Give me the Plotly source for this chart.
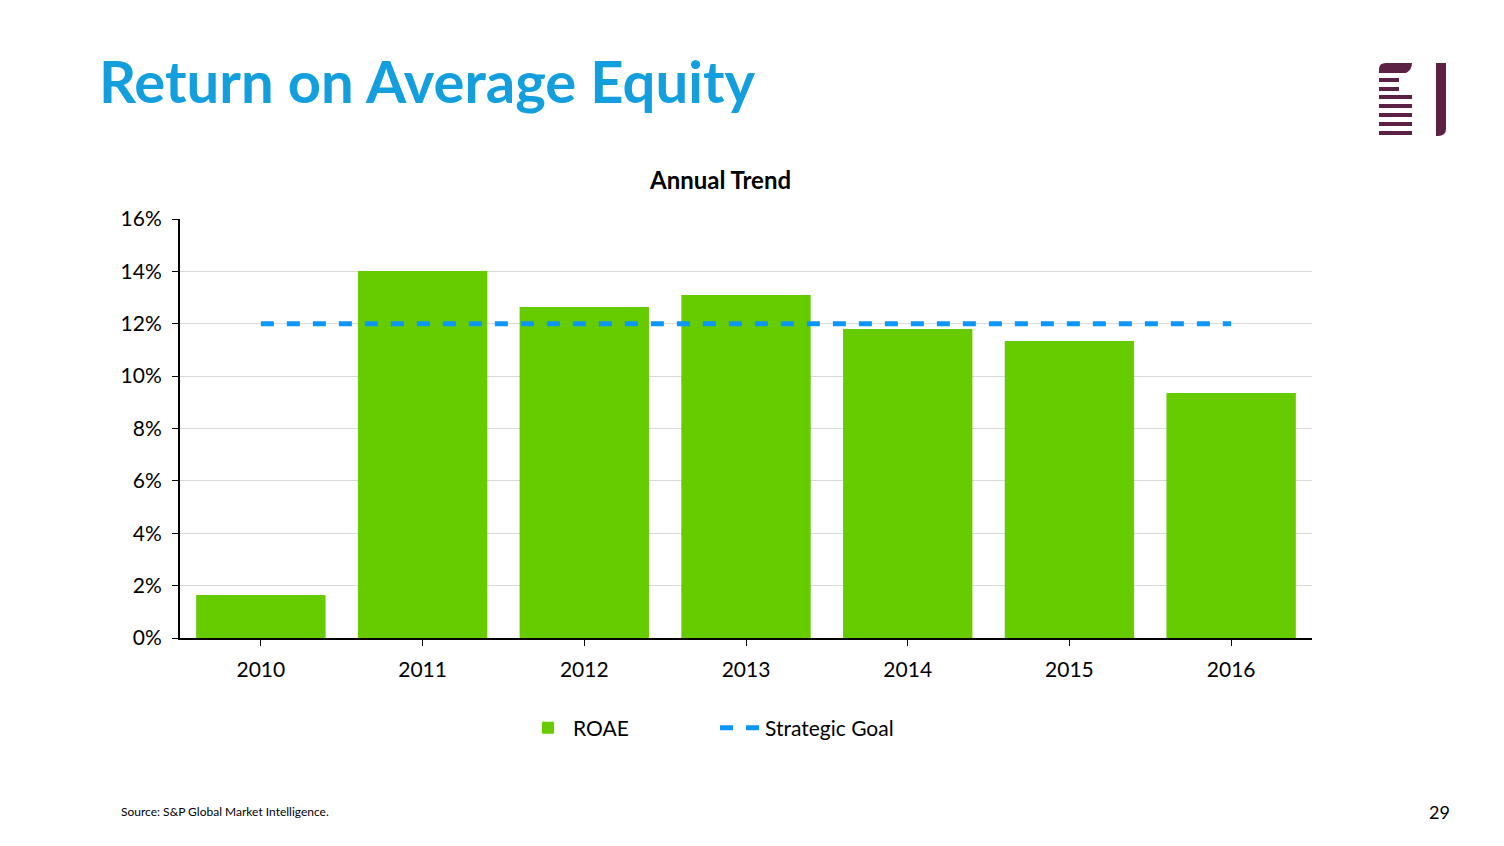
import plotly.graph_objects as go

years = ["2010", "2011", "2012", "2013", "2014", "2015", "2016"]
roae = [1.64, 14.01, 12.64, 13.10, 11.80, 11.34, 9.36]
goal = [12, 12, 12, 12, 12, 12, 12]
y_ticks = [0, 2, 4, 6, 8, 10, 12, 14, 16]
y_tick_labels = ["0%", "2%", "4%", "6%", "8%", "10%", "12%", "14%", "16%"]

W, H = 1504, 846
OFF = 8  # page body margin in the browser
L, R, T, B = 180 - OFF, 1312 - OFF, 219 - OFF, 638 - OFF

def px(x):
    return (x - OFF - L) / (R - L)

def py(y):
    return (B - (y - OFF)) / (B - T)

FONT = "Lato"

fig = go.Figure()
fig.add_trace(go.Bar(x=years, y=roae, name="ROAE", marker_color="#66CC00",
                     marker_line_width=0))
fig.add_trace(go.Scatter(x=years, y=goal, name="Strategic Goal", mode="lines",
                         line=dict(color="#0A96FA", width=5, dash="13px,13px")))

shapes = []
logo = "#5B2245"
rects = [
    (1379, 78, 1399, 82),
    (1379, 87, 1399, 91),
    (1379, 95, 1412, 99),
    (1379, 104, 1412, 108),
    (1379, 113, 1412, 117),
    (1379, 122, 1412, 126),
    (1379, 131, 1412, 135),
]
for x0, y0, x1, y1 in rects:
    shapes.append(dict(type="rect", xref="paper", yref="paper",
                       x0=px(x0), x1=px(x1), y0=py(y1), y1=py(y0),
                       fillcolor=logo, line_width=0, layer="above"))

def path(points):
    # points: list of (cmd, [(x, y), ...]) in pixels
    s = ""
    for cmd, pts in points:
        s += cmd + " " + " ".join(f"{px(x):.5f},{py(y):.5f}" for x, y in pts) + " "
    return s + "Z"

# top bar with rounded top-left corner
shapes.append(dict(type="path", xref="paper", yref="paper", layer="above",
                   fillcolor=logo, line_width=0,
                   path=path([("M", [(1379, 73)]), ("L", [(1379, 69)]),
                              ("Q", [(1379, 63), (1386, 63)]),
                              ("L", [(1412, 63)]), ("Q", [(1412, 70), (1406, 73)])])))
# right bar with rounded bottom-right corner
shapes.append(dict(type="path", xref="paper", yref="paper", layer="above",
                   fillcolor=logo, line_width=0,
                   path=path([("M", [(1436, 63)]), ("L", [(1446, 63)]),
                              ("L", [(1446, 129)]), ("Q", [(1446, 136), (1438, 136)]),
                              ("L", [(1436, 136)])])))

annotations = [
    dict(text="<b>Return on Average Equity</b>", xref="paper", yref="paper",
         x=px(97), y=py(80), xanchor="left", yanchor="middle", showarrow=False,
         font=dict(family=FONT, size=58, color="#139FDD")),
    dict(text="<b>Annual Trend</b>", xref="paper", yref="paper",
         x=px(720), y=py(179), xanchor="center", yanchor="middle", showarrow=False,
         font=dict(family=FONT, size=24, color="#000000")),
    dict(text="Source: S&P Global Market Intelligence.", xref="paper", yref="paper",
         x=px(119), y=py(811), xanchor="left", yanchor="middle", showarrow=False,
         font=dict(family=FONT, size=12, color="#000000")),
    dict(text="29", xref="paper", yref="paper",
         x=px(1452), y=py(812), xanchor="right", yanchor="middle", showarrow=False,
         font=dict(family=FONT, size=18, color="#000000")),
]

fig.update_layout(
    width=W, height=H,
    margin=dict(l=L, r=W - R, t=T, b=H - B, autoexpand=False),
    paper_bgcolor="white", plot_bgcolor="white",
    bargap=0.2,
    font=dict(family=FONT, color="#000000"),
    showlegend=True,
    legend=dict(orientation="h", x=px(523), y=py(728), xanchor="left", yanchor="middle",
                font=dict(family=FONT, size=21, color="#000000"),
                entrywidth=137, entrywidthmode="pixels", itemwidth=40),
    shapes=shapes,
    annotations=annotations,
)
fig.update_xaxes(showline=True, linecolor="#000000", linewidth=2,
                 ticks="outside", ticklen=6, tickcolor="#000000",
                 tickfont=dict(family=FONT, size=21, color="#000000"),
                 showgrid=False, ticklabelstandoff=6)
fig.update_yaxes(range=[0, 16], tickvals=y_ticks, ticktext=y_tick_labels,
                 showline=True, linecolor="#000000", linewidth=2,
                 ticks="outside", ticklen=6, tickcolor="#000000",
                 tickfont=dict(family=FONT, size=21, color="#000000"),
                 showgrid=True, gridcolor="#D9D9D9", gridwidth=1,
                 zeroline=False, ticklabelstandoff=6)

fig.write_html("out.html")
